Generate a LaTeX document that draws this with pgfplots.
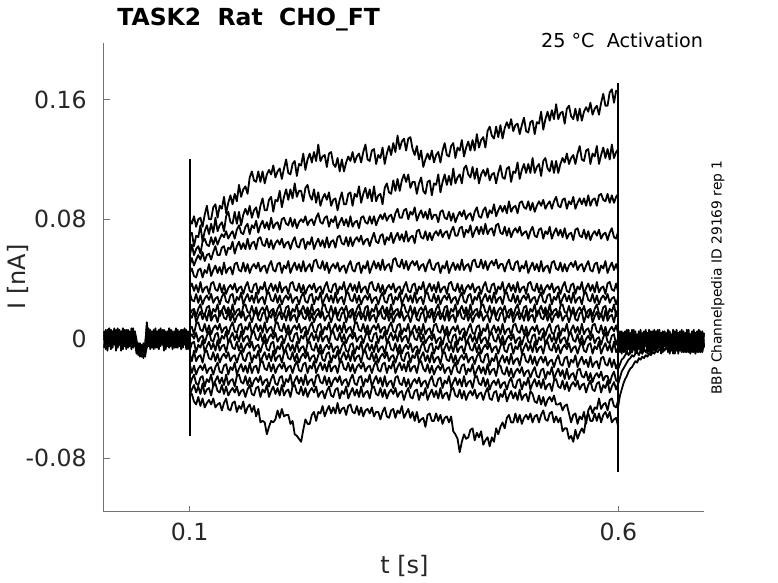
\documentclass[border=0pt]{standalone}
\usepackage{pgfplots}
\usepackage{pgfplotstable}
\pgfplotsset{compat=1.18}
\usepackage{fontspec}
\setmainfont{DejaVu Sans}
\definecolor{axgray}{RGB}{115,115,115}
\definecolor{txtgray}{RGB}{38,38,38}

\pgfplotstableread{
x a b c d e f g h i j k l m n o p q
100 80 69 55 49 44 34 31 16 16 7 1 -8 -10 -17 -32 -38 -38
102.5 77 71 63 54 47 37 26 19 14 8 3 -3 -15 -23 -27 -34 -37
105 82 62 56 49 42 32 25 20 19 3 0 -2 -8 -18 -24 -31 -42
107.5 75 69 60 53 41 36 30 15 11 10 4 -9 -15 -24 -30 -36 -44
110 80 68 62 56 46 31 24 20 15 11 -2 -4 -12 -20 -31 -32 -39
112.5 81 76 57 53 47 38 29 23 18 6 1 -6 -11 -18 -26 -37 -45
115 75 65 65 58 41 31 23 17 13 5 2 -1 -16 -21 -25 -30 -40
117.5 83 72 67 52 46 34 27 16 17 10 -3 -9 -9 -17 -32 -37 -46
120 89 76 63 56 44 35 29 21 12 4 2 -5 -8 -23 -27 -34 -43
122.5 80 70 62 57 50 30 26 22 19 9 5 -2 -13 -20 -29 -33 -41
125 80 77 68 53 42 37 30 15 12 3 -1 -7 -14 -19 -24 -38 -44
127.5 88 71 63 58 46 38 24 20 15 7 -2 -3 -9 -24 -32 -31 -40
130 90 81 68 62 49 33 27 18 16 9 3 -8 -15 -19 -28 -30 -46
132.5 81 72 63 56 44 32 28 23 11 6 4 -1 -10 -16 -25 -35 -44
135 89 76 67 56 48 37 23 15 18 10 -3 -8 -16 -22 -30 -36 -43
137.5 87 78 70 61 43 31 28 19 19 4 2 -5 -12 -23 -26 -31 -48
140 95 72 68 62 51 36 31 22 14 7 0 -4 -10 -18 -31 -37 -43
142.5 84 82 72 56 44 30 25 17 13 8 5 -9 -13 -17 -24 -32 -40
145 91 85 67 61 47 34 24 21 18 3 -3 -2 -9 -24 -31 -38 -47
147.5 96 78 70 60 48 36 29 16 12 8 1 -1 -15 -19 -28 -35 -48
150 90 77 72 65 43 33 30 23 17 11 4 -6 -12 -21 -27 -33 -43
152.5 97 85 67 57 50 37 23 16 11 5 -1 -7 -11 -16 -32 -36 -42
155 92 77 73 62 51 31 28 19 15 4 3 -2 -16 -24 -25 -32 -49
157.5 103 85 76 65 46 34 26 20 17 9 -2 -8 -11 -20 -24 -38 -45
160 95 76 71 60 45 35 31 15 14 10 5 -3 -8 -17 -29 -35 -47
162.5 100 83 70 64 51 30 23 22 18 3 -2 -9 -14 -22 -30 -34 -42
165 102 87 75 60 45 35 27 23 12 8 1 -5 -15 -18 -25 -39 -50
167.5 97 83 77 67 50 38 30 18 15 6 2 -3 -10 -23 -31 -34 -46
170 108 89 70 60 44 32 25 17 16 11 -3 -6 -9 -16 -26 -31 -44
172.5 112 81 76 64 48 31 29 22 11 3 4 -2 -16 -23 -32 -37 -49
175 106 86 74 65 50 36 24 16 16 7 5 -8 -11 -19 -28 -38 -45
177.5 105 88 79 60 47 37 31 21 19 10 0 -5 -13 -18 -26 -33 -52
180 112 81 71 67 51 30 24 15 13 5 -1 -4 -8 -23 -29 -32 -47
182.5 105 89 76 68 45 35 27 19 12 9 4 -9 -16 -16 -25 -39 -56
185 112 94 79 63 48 33 28 21 17 4 -2 -4 -12 -15 -31 -34 -55
187.5 104 86 74 62 49 38 23 18 18 11 3 -1 -9 -20 -28 -36 -56
190 110 86 78 67 44 30 30 22 11 4 -3 -7 -14 -21 -27 -31 -64
192.5 113 93 73 61 49 34 31 16 16 7 1 -8 -10 -16 -32 -39 -59
195 110 95 81 66 52 37 26 19 14 8 3 -3 -15 -22 -27 -35 -55
197.5 116 85 74 60 46 32 25 20 19 3 0 -2 -8 -17 -24 -32 -56
200 108 93 77 64 45 36 30 15 11 10 4 -10 -15 -23 -30 -37 -54
202.5 112 92 78 66 50 31 24 20 15 11 -2 -5 -12 -19 -31 -33 -48
205 114 99 73 63 51 38 29 23 18 6 1 -7 -11 -17 -26 -38 -53
207.5 107 88 80 67 44 31 23 17 13 5 2 -2 -16 -20 -25 -31 -47
210 114 95 81 61 49 34 27 16 17 10 -3 -10 -9 -16 -32 -38 -52
212.5 120 100 77 64 47 35 29 21 12 4 2 -6 -8 -22 -27 -35 -51
215 111 93 76 65 52 30 26 22 19 9 5 -3 -13 -19 -29 -34 -51
217.5 110 100 81 60 44 37 30 15 12 3 -1 -8 -14 -18 -24 -39 -57
220 117 94 75 65 48 38 24 20 15 7 -2 -4 -9 -23 -32 -32 -55
222.5 119 104 80 68 51 33 27 18 16 9 3 -9 -15 -18 -28 -31 -64
225 109 95 74 62 46 32 28 23 11 6 4 -2 -10 -15 -25 -36 -65
227.5 117 99 78 61 50 37 23 15 18 10 -3 -9 -16 -21 -30 -37 -67
230 116 99 80 66 45 31 28 19 19 4 2 -6 -12 -22 -26 -32 -69
232.5 124 92 78 67 52 36 31 22 14 7 0 -5 -10 -17 -31 -38 -61
235 113 101 82 60 45 30 25 17 13 8 5 -10 -13 -16 -24 -33 -54
237.5 120 103 76 65 48 34 24 21 18 3 -3 -3 -9 -23 -31 -39 -57
240 124 96 79 63 50 36 29 16 12 8 1 -2 -15 -18 -28 -35 -57
242.5 118 93 80 68 45 33 30 23 17 11 4 -7 -12 -20 -27 -33 -51
245 125 100 76 60 52 37 23 16 11 5 -1 -8 -11 -15 -32 -36 -49
247.5 119 91 81 64 53 31 28 19 15 4 3 -3 -16 -23 -25 -32 -55
250 130 98 84 67 48 34 26 20 17 9 -2 -9 -11 -19 -24 -39 -49
252.5 119 89 78 62 47 35 31 15 14 10 5 -4 -8 -16 -29 -36 -50
255 122 94 77 66 52 30 23 22 18 3 -2 -10 -14 -21 -30 -35 -45
257.5 123 97 81 61 46 35 27 23 12 8 1 -6 -15 -17 -25 -40 -52
260 115 93 82 68 51 38 30 18 15 6 2 -4 -10 -22 -31 -35 -48
262.5 124 98 75 61 44 32 25 17 16 11 -3 -7 -9 -15 -26 -32 -45
265 125 89 80 65 48 31 29 22 11 3 4 -3 -16 -22 -32 -38 -50
267.5 117 93 78 66 50 36 24 16 16 7 5 -9 -11 -19 -28 -39 -46
270 115 94 82 61 47 37 31 21 19 10 0 -6 -13 -18 -26 -34 -50
272.5 121 86 74 68 51 30 24 15 13 5 -1 -5 -8 -23 -29 -33 -43
275 112 93 78 69 45 35 27 19 12 9 4 -10 -16 -16 -25 -40 -50
277.5 120 98 81 64 48 33 28 21 17 4 -2 -5 -12 -15 -31 -35 -47
280 112 90 76 63 49 38 23 18 18 11 3 -2 -9 -20 -28 -37 -46
282.5 118 90 80 68 44 30 30 22 11 4 -3 -8 -14 -21 -27 -32 -51
285 122 97 75 62 49 34 31 16 16 7 1 -9 -10 -16 -32 -40 -45
287.5 119 98 82 68 52 37 26 19 14 8 3 -4 -15 -22 -27 -36 -44
290 125 89 75 62 46 32 25 20 19 3 0 -3 -8 -17 -24 -33 -49
292.5 118 97 78 66 45 36 30 15 11 10 4 -10 -15 -23 -30 -38 -50
295 122 95 79 68 50 31 24 20 15 11 -2 -5 -12 -19 -31 -34 -45
297.5 124 102 74 65 51 38 29 23 18 6 1 -7 -11 -17 -26 -39 -51
300 118 91 81 69 44 31 23 17 13 5 2 -2 -16 -20 -25 -32 -46
302.5 125 97 82 63 49 34 27 16 17 10 -3 -10 -9 -16 -32 -39 -52
305 130 101 78 66 47 35 29 21 12 4 2 -6 -8 -22 -27 -36 -48
307.5 120 94 77 67 52 30 26 22 19 9 5 -3 -13 -19 -29 -35 -47
310 119 100 82 62 44 37 30 15 12 3 -1 -8 -14 -18 -24 -40 -50
312.5 126 92 77 67 48 38 24 20 15 7 -2 -4 -9 -23 -32 -33 -46
315 127 102 82 71 52 33 27 18 16 9 3 -9 -15 -18 -28 -32 -52
317.5 117 92 76 65 47 32 28 23 11 6 4 -2 -10 -15 -25 -37 -49
320 123 96 80 64 51 37 23 15 18 10 -3 -9 -16 -21 -30 -38 -49
322.5 121 97 83 69 46 31 28 19 19 4 2 -6 -12 -22 -26 -33 -54
325 128 90 80 70 53 36 31 22 14 7 0 -5 -10 -17 -32 -39 -49
327.5 117 101 84 63 46 30 25 17 13 8 5 -10 -13 -16 -25 -34 -46
330 124 104 79 68 49 34 24 21 18 3 -3 -3 -9 -23 -32 -40 -52
332.5 129 98 82 66 50 36 29 16 12 8 1 -2 -15 -18 -29 -36 -53
335 123 97 83 71 45 33 30 23 17 11 4 -7 -12 -20 -28 -34 -48
337.5 131 106 78 64 53 37 23 16 11 5 -1 -8 -11 -15 -33 -37 -47
340 125 99 84 68 54 31 28 19 15 4 3 -3 -16 -23 -26 -33 -53
342.5 136 107 87 71 49 34 26 20 17 9 -2 -9 -11 -19 -25 -39 -48
345 127 99 81 66 48 35 31 15 14 10 5 -4 -8 -16 -30 -36 -50
347.5 132 106 81 70 53 30 23 22 18 3 -2 -10 -14 -21 -31 -35 -45
350 134 110 86 65 47 35 27 23 12 7 1 -6 -15 -17 -26 -41 -53
352.5 126 105 87 72 52 38 30 18 15 5 2 -4 -10 -22 -32 -36 -50
355 134 110 80 65 46 32 25 17 16 10 -3 -7 -9 -15 -27 -33 -47
357.5 135 101 85 68 50 31 29 22 11 2 4 -3 -16 -22 -33 -39 -53
360 127 105 83 69 52 36 24 16 16 6 5 -9 -11 -19 -29 -40 -49
362.5 123 105 88 64 49 37 31 21 19 9 0 -6 -13 -18 -27 -35 -55
365 129 97 79 72 52 30 24 15 13 4 -1 -5 -8 -23 -30 -34 -49
367.5 120 104 83 73 46 35 27 19 12 8 4 -10 -16 -16 -26 -41 -56
370 126 108 86 68 49 33 28 21 17 3 -2 -5 -12 -15 -32 -36 -54
372.5 115 99 81 67 50 38 23 18 18 10 3 -2 -9 -20 -29 -38 -53
375 120 97 85 72 45 30 30 22 11 3 -3 -8 -15 -22 -28 -33 -59
377.5 124 105 80 66 50 34 31 16 16 6 0 -9 -11 -17 -33 -41 -51
380 120 106 87 71 53 37 26 19 14 7 2 -4 -16 -23 -28 -37 -50
382.5 126 96 80 66 47 32 25 20 19 2 -1 -3 -9 -18 -25 -34 -55
385 118 104 83 70 46 36 30 15 11 9 3 -10 -16 -24 -31 -39 -55
387.5 123 103 83 72 50 31 24 20 15 10 -3 -5 -13 -20 -32 -35 -50
390 125 110 78 69 51 38 29 23 18 5 0 -7 -12 -18 -27 -40 -55
392.5 118 98 85 73 44 31 23 17 13 4 1 -2 -17 -21 -26 -33 -51
395 126 105 86 68 49 34 27 16 17 9 -4 -10 -10 -17 -33 -40 -57
397.5 131 110 81 71 47 35 29 21 12 3 2 -6 -9 -23 -28 -37 -53
400 123 103 80 72 52 30 26 22 19 8 4 -3 -14 -20 -30 -36 -52
402.5 122 109 85 67 44 37 30 15 12 2 -2 -8 -15 -19 -25 -41 -56
405 129 103 79 72 48 38 24 20 15 6 -3 -4 -10 -24 -33 -34 -52
407.5 131 114 84 75 51 33 27 18 16 8 2 -9 -16 -19 -29 -33 -62
410 121 104 78 69 46 32 28 23 11 5 3 -2 -11 -16 -26 -38 -64
412.5 128 108 82 69 50 37 23 15 18 9 -4 -9 -17 -22 -31 -39 -67
415 126 110 85 74 46 31 28 19 19 3 1 -6 -13 -23 -27 -34 -76
417.5 133 104 82 75 53 36 31 22 14 6 -1 -5 -11 -18 -32 -40 -69
420 122 114 86 68 46 30 25 17 13 7 4 -10 -14 -17 -25 -35 -64
422.5 128 116 80 73 49 34 24 21 18 2 -4 -3 -10 -24 -32 -41 -67
425 132 110 83 71 50 36 29 16 12 7 0 -2 -16 -20 -29 -37 -66
427.5 126 108 84 76 45 33 30 23 17 10 3 -7 -13 -22 -28 -35 -61
430 133 115 79 68 52 37 23 16 11 4 -2 -8 -12 -17 -33 -38 -60
432.5 126 107 85 72 53 31 28 19 15 3 2 -3 -17 -25 -26 -34 -68
435 137 114 88 75 48 34 26 20 17 8 -3 -9 -12 -21 -25 -40 -63
437.5 128 104 82 70 48 35 31 15 14 9 4 -4 -9 -18 -30 -37 -66
440 133 110 81 75 53 30 23 22 18 2 -3 -10 -15 -23 -31 -36 -62
442.5 135 113 86 70 47 35 27 23 12 7 0 -6 -16 -19 -26 -41 -71
445 128 109 88 77 52 38 30 18 15 5 1 -4 -11 -24 -32 -36 -68
447.5 139 114 81 70 46 32 25 17 16 10 -4 -7 -10 -17 -27 -33 -66
450 142 106 86 73 50 31 29 22 11 2 3 -3 -18 -24 -34 -40 -72
452.5 136 110 84 74 52 36 24 16 16 6 4 -9 -13 -21 -30 -41 -66
455 134 111 90 69 49 37 31 21 19 9 -1 -6 -15 -20 -28 -36 -69
457.5 142 104 82 76 53 30 24 15 13 4 -2 -5 -10 -25 -31 -35 -60
460 135 111 86 77 47 35 27 19 12 8 3 -10 -18 -18 -27 -42 -64
462.5 143 116 89 71 50 33 28 21 17 3 -3 -5 -14 -18 -33 -37 -59
465 134 108 85 70 50 38 23 18 18 10 2 -2 -11 -23 -30 -39 -56
467.5 141 107 89 75 45 30 30 22 11 3 -4 -8 -16 -24 -29 -34 -60
470 145 114 84 69 50 34 31 16 16 6 0 -9 -12 -19 -34 -42 -53
472.5 141 115 92 74 53 37 26 19 14 7 2 -4 -17 -25 -29 -38 -51
475 147 105 85 68 47 32 25 20 19 2 -1 -3 -10 -20 -26 -35 -56
477.5 139 112 88 72 46 36 30 15 11 9 3 -10 -17 -26 -32 -40 -56
480 143 111 89 74 51 31 24 20 15 10 -3 -5 -14 -22 -33 -36 -50
482.5 144 118 84 71 52 38 29 23 18 5 0 -7 -13 -20 -28 -41 -56
485 137 107 91 75 45 31 23 17 13 4 1 -2 -18 -23 -27 -34 -51
487.5 143 113 92 69 49 34 27 16 17 9 -4 -10 -11 -19 -34 -41 -57
490 148 117 88 71 47 35 29 21 12 3 1 -6 -10 -25 -29 -38 -53
492.5 139 111 87 72 52 30 26 22 19 8 4 -3 -15 -22 -31 -37 -51
495 138 117 92 67 44 37 30 15 12 2 -2 -8 -16 -21 -26 -42 -54
497.5 145 111 86 72 48 38 24 20 15 6 -3 -4 -11 -26 -34 -35 -50
500 146 121 91 75 51 33 27 18 16 8 2 -9 -17 -22 -30 -37 -56
502.5 137 111 85 69 46 32 28 23 11 5 3 -2 -12 -19 -27 -42 -52
505 145 115 89 68 50 37 23 15 18 9 -4 -9 -18 -25 -32 -43 -51
507.5 144 117 92 73 45 31 28 19 19 3 1 -6 -14 -26 -28 -38 -56
510 152 109 89 74 52 36 31 22 14 6 -1 -5 -12 -21 -33 -44 -51
512.5 140 119 93 67 45 30 25 17 13 7 4 -10 -16 -20 -27 -39 -48
515 147 121 87 72 48 34 24 21 18 2 -4 -3 -12 -27 -34 -45 -54
517.5 152 114 90 70 49 36 29 16 12 7 0 -2 -18 -22 -31 -41 -55
520 146 112 92 75 44 33 30 23 17 10 3 -7 -15 -24 -30 -39 -50
522.5 153 119 87 67 51 37 23 16 11 4 -2 -8 -14 -19 -35 -42 -49
525 147 111 92 71 52 31 28 19 15 3 2 -3 -19 -27 -28 -38 -56
527.5 157 119 95 74 47 34 26 20 17 8 -3 -9 -14 -23 -27 -44 -52
530 147 111 89 69 46 35 31 15 14 9 4 -4 -11 -20 -32 -44 -56
532.5 151 117 88 73 51 30 23 22 18 2 -3 -10 -17 -25 -33 -43 -53
535 152 121 93 68 45 35 27 23 12 7 0 -6 -18 -21 -28 -48 -62
537.5 144 118 94 74 50 38 30 18 15 5 1 -4 -13 -27 -34 -45 -60
540 154 124 87 67 45 32 25 17 16 10 -4 -7 -12 -20 -29 -44 -60
542.5 156 117 92 70 49 31 29 22 11 2 3 -3 -19 -27 -35 -50 -67
545 149 121 90 71 51 36 24 16 16 6 4 -9 -14 -24 -31 -56 -65
547.5 147 123 95 66 48 37 31 21 19 9 -1 -6 -16 -23 -29 -51 -69
550 154 117 87 73 52 30 24 15 13 4 -2 -5 -11 -28 -32 -50 -61
552.5 146 124 91 74 46 35 27 19 12 8 3 -10 -19 -21 -28 -57 -67
555 154 129 94 69 49 33 28 21 17 3 -3 -5 -15 -20 -34 -52 -63
557.5 146 120 90 68 50 38 23 18 18 10 2 -2 -12 -25 -31 -54 -60
560 152 119 94 73 45 30 30 22 11 3 -4 -8 -17 -26 -30 -49 -63
562.5 155 126 89 67 49 34 31 16 16 6 0 -9 -14 -22 -36 -57 -53
565 152 127 96 72 52 37 26 19 14 7 2 -4 -19 -28 -31 -48 -50
567.5 158 117 89 66 46 32 25 20 19 2 -1 -3 -12 -23 -28 -45 -55
570 150 124 93 70 45 36 30 15 11 9 3 -10 -19 -29 -34 -50 -55
572.5 154 122 94 72 50 31 24 20 15 10 -3 -5 -16 -25 -35 -46 -50
575 156 129 89 69 51 38 29 23 18 5 0 -7 -15 -23 -30 -47 -55
577.5 150 117 96 73 44 31 23 17 13 4 1 -2 -20 -26 -29 -40 -50
580 158 123 97 67 49 34 27 16 17 9 -4 -10 -13 -22 -36 -47 -56
582.5 164 128 93 70 47 35 29 21 12 3 1 -6 -12 -28 -31 -44 -51
585 156 121 92 71 52 30 26 22 19 8 4 -3 -17 -25 -33 -43 -49
587.5 156 127 97 66 44 37 30 15 12 2 -2 -8 -18 -25 -28 -48 -53
590 165 120 91 71 48 38 24 20 15 6 -3 -4 -13 -30 -36 -41 -49
592.5 167 130 96 74 51 33 27 18 16 8 2 -9 -19 -25 -32 -40 -56
595 158 121 91 68 46 32 28 23 11 5 3 -2 -14 -22 -29 -45 -54
597.5 166 125 95 67 50 37 23 15 18 9 -4 -9 -20 -28 -34 -46 -53
600 165 127 97 72 45 31 28 19 19 3 1 -6 -16 -29 -30 -41 -59
}\mainT

\pgfplotstableread{
x u v w z
0 3 -6 -1 5
2 -5 4 6 -7
4 6 -2 -8 2
6 -3 7 3 -5
8 4 -7 -4 6
10 -6 2 5 -3
12 5 -4 -2 7
14 -2 6 4 -8
16 7 -5 -6 3
18 -4 3 6 -4
20 2 -8 -1 5
22 -7 5 7 -2
24 5 -3 -5 6
26 -3 6 2 -7
28 6 -6 -3 4
30 -5 4 5 -5
32 3 -2 -7 7
34 -6 7 4 -3
36 4 -5 -2 5
38 -8 -2 -10 -1
40 -3 -11 -4 -9
42 -10 -5 -12 -3
44 -4 -12 -6 -11
46 -11 -3 -13 -5
48 -5 -10 -4 -12
50 11 -6 8 -2
52 -2 7 -5 6
54 6 -4 3 -7
56 -5 5 -6 4
58 4 -7 6 -3
60 -6 3 -2 7
62 5 -5 4 -6
64 -3 6 -7 3
66 7 -2 5 -5
68 -4 4 -3 6
70 3 -6 6 -8
72 -7 5 -4 4
74 5 -3 2 -5
76 -2 7 -6 6
78 6 -5 4 -3
80 -5 3 -7 5
82 4 -6 5 -4
84 -6 6 -2 7
86 3 -4 6 -6
88 -4 5 -5 3
90 6 -7 3 -5
92 -3 4 -6 6
94 5 -2 7 -4
96 -7 6 -3 5
98 4 -5 5 -7
100 -2 3 -4 2
}\preT

\pgfplotstableread{
x u v w z r s t
600 4 -7 -1 2 -45 -30 -20
602 -8 3 5 -9 -38 -26 -17
604 5 -10 -6 4 -34 -22 -14
606 -9 4 3 -8 -30 -20 -13
608 3 -7 -9 5 -27 -18 -11
610 -10 6 2 -4 -25 -16 -9
612 6 -5 -7 3 -22 -14 -11
614 -7 2 4 -10 -20 -13 -8
616 2 -9 -3 6 -19 -11 -9
618 -6 5 6 -7 -17 -12 -6
620 5 -8 -10 2 -15 -10 -8
622 -9 3 1 -6 -16 -9 -5
624 4 -6 -5 5 -13 -11 -7
626 -5 6 3 -9 -14 -8 -4
628 3 -10 -8 4 -12 -10 -6
630 -8 4 5 -5 -13 -7 -3
632 6 -4 -2 3 -11 -9 -5
634 -6 2 4 -10 -12 -6 -2
636 2 -9 -7 6 -10 -8 -4
638 -10 5 3 -3 -11 -5 1
640 5 -3 -9 2 -9 -7 -3
642 -4 6 2 -8 -10 -4 2
644 3 -8 -5 5 -8 -6 -4
646 -7 2 6 -6 -9 -3 3
648 6 -6 -3 3 -7 -5 -5
650 -9 4 4 -10 -8 -2 2
652 2 -9 -8 5 -6 -6 -6
654 -5 3 5 -4 -8 -1 3
656 4 -7 -2 2 -5 -5 -4
658 -8 6 3 -9 -7 0 2
660 5 -4 -10 4 -4 -6 -7
662 -6 2 1 -5 -8 1 3
664 3 -10 -6 6 -3 -4 -5
666 -10 5 4 -7 -9 2 1
668 6 -3 -8 3 -2 -7 -6
670 -4 4 2 -10 -8 3 4
672 2 -8 -4 5 -3 -5 -8
674 -7 6 5 -3 -9 2 2
676 5 -5 -9 2 -1 -8 -4
678 -9 3 3 -8 -7 4 3
680 4 -7 -3 6 -4 -6 -9
682 -5 2 6 -5 -9 1 1
684 3 -10 -7 3 0 -7 -5
686 -8 5 2 -9 -6 3 4
688 6 -4 -5 4 -3 -9 -7
690 -6 3 4 -6 -10 2 2
692 2 -9 -8 5 1 -5 -6
694 -9 6 3 -3 -7 3 3
696 5 -5 -4 2 -2 -8 -9
698 -4 4 5 -8 -9 1 0
700 3 -6 -2 4 -3 -4 -5
}\postT

\begin{document}
\begin{tikzpicture}[x=1pt,y=1pt]
\useasboundingbox (0,0) rectangle (389,291.5);
\begin{axis}[
  at={(52pt,35.5pt)}, anchor=south west,
  scale only axis, width=300pt, height=234.5pt,
  xmin=0, xmax=700, ymin=-116, ymax=198,
  axis lines*=left,
  axis line style={draw=axgray, line width=0.5pt},
  tick style={draw=axgray, line width=0.5pt},
  tick align=inside,
  major tick length=3pt,
  xtick={100,600}, xticklabels={0.1,0.6},
  ytick={-80,0,80,160}, yticklabels={-0.08,0,0.08,0.16},
  tick label style={inner sep=0pt, text=txtgray, font=\fontsize{11.8}{14}\selectfont},
  xticklabel style={anchor=north, yshift=-5.5pt},
  yticklabel style={anchor=east, xshift=-8.5pt},
  clip=false,
  tr/.style={black, line width=0.9pt, line join=round},
]
\pgfplotsinvokeforeach{u,v,w,z}{
  \addplot[tr] table[x=x, y=#1] {\preT};
}
\pgfplotsinvokeforeach{u,v,w,z,r,s,t}{
  \addplot[tr] table[x=x, y=#1] {\postT};
}
\pgfplotsinvokeforeach{a,b,c,d,e,f,g,h,i,j,k,l,m,n,o,p,q}{
  \addplot[tr] table[x=x, y=#1] {\mainT};
}
\addplot[black, line width=1pt] coordinates {(100,120) (100,-65)};
\addplot[black, line width=1pt] coordinates {(600,171) (600,-89)};
\end{axis}
\node[anchor=base west, inner sep=0pt, font=\bfseries\fontsize{11.75}{14}\selectfont] at (58.5,278.5) {TASK2\ \ Rat\ \ CHO\_FT};
\node[anchor=base east, inner sep=0pt, font=\fontsize{9.6}{12}\selectfont] at (351.7,267.9) {25 °C\ \ Activation};
\node[anchor=base west, inner sep=0pt, rotate=90, font=\fontsize{6.9}{9}\selectfont] at (360.8,94) {BBP Channelpedia ID 29169 rep 1};
\node[anchor=base west, inner sep=0pt, rotate=90, text=txtgray, font=\fontsize{12}{14}\selectfont] at (12.5,136.5) {I [nA]};
\node[anchor=base, inner sep=0pt, text=txtgray, font=\fontsize{12}{14}\selectfont] at (202.25,4.5) {t [s]};
\end{tikzpicture}
\end{document}
